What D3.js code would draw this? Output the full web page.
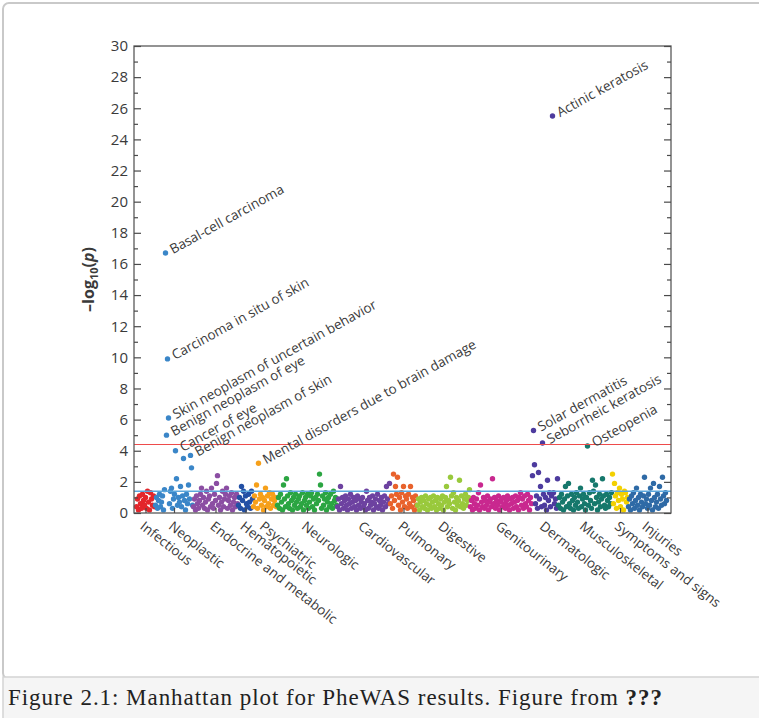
<!DOCTYPE html>
<html>
<head>
<meta charset="utf-8">
<script src="https://cdn.jsdelivr.net/npm/d3@7/dist/d3.min.js"></script>
<style>
body { margin: 0; background: #fff; }
svg { display: block; }
</style>
</head>
<body>
<div id="chart"></div>
<script>
// phenotype groups, left to right
var categories = ["Infectious", "Neoplastic", "Endocrine and metabolic", "Hematopoietic", "Psychiatric",
    "Neurologic", "Cardiovascular", "Pulmonary", "Digestive", "Genitourinary", "Dermatologic",
    "Musculoskeletal", "Symptoms and signs", "Injuries"];
var colors = ["#e3262b", "#3a86c8", "#8b4ea3", "#2350a5", "#f6a01a", "#2ba542", "#6d42a0",
    "#e8622c", "#99c93c", "#c9288f", "#4d3b9e", "#16786c", "#f3d000", "#2e6aa6"];

// -log10(p) per phenotype, in plot order inside each group
var infectious = [0.4, 0.9, 0.2, 1.1, 0.6, 0.3, 1.2, 0.8, 0.5, 1.0, 0.3, 1.4, 0.7, 0.2, 1.3, 0.9, 0.5, 1.1, 0.4];
var neoplastic = [0.5, 1.0, 0.3, 0.8, 1.2, 0.4, 0.7, 1.1, 0.2, 1.5, 16.7, 5.0, 9.9, 6.1, 0.6, 1.4, 1.6, 0.3, 0.9,
    1.2, 4.0, 2.2, 0.5, 1.0, 0.7, 1.7, 0.4, 1.1, 3.5, 0.8, 0.2, 1.2, 0.6, 1.8, 0.9, 3.7, 2.9, 0.5];
var endocrine = [0.4, 0.9, 0.2, 1.1, 0.6, 0.3, 0.8, 1.2, 1.6, 0.5, 1.0, 0.3, 0.7, 1.4, 0.2, 0.9, 1.1, 0.4, 1.6,
    0.6, 0.3, 1.2, 0.8, 1.9, 2.4, 0.5, 1.0, 0.2, 0.7, 1.4, 0.4, 0.9, 1.2, 1.6, 0.3, 0.8, 1.1, 0.5, 1.3, 0.2,
    0.7, 1.0, 0.4, 1.2, 0.6];
var hematopoietic = [0.5, 1.0, 0.3, 1.7, 0.8, 1.4, 0.2, 1.1, 0.6, 0.4, 1.2, 0.7, 0.3, 1.4, 0.9];
var psychiatric = [0.4, 1.1, 0.7, 1.8, 0.3, 3.2, 0.9, 1.2, 0.5, 1.0, 0.2, 0.8, 1.6, 0.4, 1.1, 0.6, 1.3, 0.3,
    0.9, 1.2, 0.5, 0.8, 1.0, 0.4];
var neurologic = [0.5, 1.0, 0.3, 1.2, 0.7, 0.2, 1.8, 0.9, 0.4, 2.2, 1.1, 0.6, 0.3, 1.3, 0.8, 0.2, 1.0, 0.5,
    1.2, 0.7, 0.3, 0.9, 1.1, 0.4, 0.6, 1.3, 0.2, 0.8, 1.0, 0.5, 1.2, 0.3, 0.7, 1.1, 1.3, 0.4, 0.9, 0.2, 1.0,
    0.6, 1.2, 0.8, 2.5, 1.8, 0.3, 1.1, 0.5, 0.9, 1.3, 0.2, 0.7, 1.0, 0.4, 1.2, 0.6, 0.3, 1.4, 0.8, 1.0, 0.5];
var cardiovascular = [0.4, 0.9, 0.2, 1.7, 0.6, 1.0, 0.3, 0.8, 1.1, 0.5, 0.2, 0.9, 0.6, 1.2, 0.3, 0.7, 1.0,
    0.4, 0.8, 0.2, 1.1, 0.5, 0.9, 0.3, 0.7, 1.0, 0.4, 0.6, 0.2, 1.4, 0.8, 0.3, 1.0, 0.5, 0.7, 1.1, 0.2, 0.6,
    0.9, 0.4, 1.2, 0.3, 0.8, 0.5, 1.0, 0.2, 0.7, 1.1, 0.4, 1.7, 0.9, 0.6, 1.9];
var pulmonary = [0.6, 1.1, 0.3, 2.5, 0.8, 1.7, 1.2, 2.3, 0.5, 1.0, 0.2, 1.3, 0.7, 1.7, 0.4, 1.1, 0.9, 0.3,
    1.2, 0.6, 1.7, 0.4, 1.0, 0.8, 0.2, 1.1, 0.5];
var digestive = [0.5, 0.9, 0.2, 0.7, 1.0, 0.4, 0.8, 0.3, 1.1, 0.6, 0.2, 0.9, 0.5, 1.0, 0.3, 0.7, 1.1, 0.4,
    0.8, 0.2, 1.0, 0.6, 0.3, 0.9, 0.5, 1.1, 0.2, 0.7, 1.0, 1.7, 0.4, 0.8, 0.6, 2.3, 1.1, 0.3, 1.3, 0.7, 0.2,
    1.0, 0.5, 0.8, 2.1, 0.4, 1.1, 0.6, 0.3, 0.9, 1.2, 0.5, 0.8, 1.0, 1.5];
var genitourinary = [0.4, 0.8, 0.2, 1.0, 0.6, 0.3, 0.9, 0.5, 1.3, 0.2, 1.8, 0.7, 0.4, 1.0, 0.3, 0.8, 0.5,
    1.1, 0.2, 0.7, 0.9, 0.4, 2.2, 0.6, 1.0, 0.3, 0.8, 0.5, 1.1, 0.2, 0.7, 0.9, 0.4, 1.0, 0.6, 0.3, 0.8, 1.1,
    0.5, 0.2, 0.9, 0.6, 1.0, 0.3, 0.7, 1.1, 0.4, 0.8, 0.2, 1.0, 1.3, 0.5, 0.9, 0.3, 1.1, 0.6, 0.4, 1.2, 0.8,
    0.2, 1.0, 0.6];
var dermatologic = [2.4, 5.3, 3.1, 0.6, 1.1, 0.3, 2.6, 0.9, 1.7, 0.4, 4.5, 1.2, 0.5, 1.0, 0.2, 2.1, 0.8,
    1.3, 0.4, 1.1, 25.5, 1.3, 0.6, 0.9, 0.3, 2.2];
var musculoskeletal = [0.5, 1.0, 0.3, 1.2, 0.7, 0.2, 0.9, 1.7, 0.4, 1.1, 1.9, 0.6, 0.3, 1.2, 0.8, 0.2, 1.0,
    0.5, 1.3, 0.7, 0.3, 1.1, 1.6, 0.4, 0.9, 1.2, 0.6, 0.2, 1.0, 4.3, 0.5, 1.3, 0.8, 0.3, 2.1, 1.4, 0.6, 1.8,
    1.0, 0.2, 0.7, 1.2, 0.4, 0.9, 2.2, 1.1, 0.5, 0.3, 1.2, 0.8, 0.4, 1.0, 0.6, 1.3];
var symptoms = [2.5, 0.6, 1.9, 1.1, 0.3, 1.3, 0.8, 1.6, 0.4, 1.2, 0.9, 0.2, 1.4, 1.3, 0.7, 1.0];
var injuries = [0.4, 0.9, 0.2, 1.1, 0.6, 1.3, 0.3, 0.8, 1.6, 0.5, 1.0, 0.2, 1.2, 0.7, 0.4, 1.1, 2.3, 0.6,
    0.9, 0.3, 1.2, 0.5, 1.6, 0.8, 0.2, 1.9, 1.0, 0.4, 0.7, 1.2, 0.3, 1.7, 0.9, 0.5, 2.3, 1.1, 0.6, 1.3, 0.8];

var groups = [infectious, neoplastic, endocrine, hematopoietic, psychiatric, neurologic, cardiovascular,
    pulmonary, digestive, genitourinary, dermatologic, musculoskeletal, symptoms, injuries];

// labelled hits: [group, phenotype index in group, label]
var hits = [
    [1, 10, "Basal-cell carcinoma"],
    [1, 12, "Carcinoma in situ of skin"],
    [1, 13, "Skin neoplasm of uncertain behavior"],
    [1, 11, "Benign neoplasm of eye"],
    [1, 20, "Cancer of eye"],
    [1, 35, "Benign neoplasm of skin"],
    [4, 5, "Mental disorders due to brain damage"],
    [10, 20, "Actinic keratosis"],
    [10, 1, "Solar dermatitis"],
    [10, 10, "Seborrheic keratosis"],
    [11, 29, "Osteopenia"]
];

var yMajor = d3.range(0, 31, 2);
var yMinor = d3.range(1, 30, 2);
var bonferroni = 4.4;   // red line
var nominal = 1.4;      // blue line

var W = 759, H = 718;
var box = {left: 134, right: 671, top: 46, bottom: 513};
var font = "'Open Sans', 'Noto Sans', sans-serif";
var ink = "#3a3a3a";

var svg = d3.select("#chart").append("svg").attr("width", W).attr("height", H);

// page frame and caption strip
svg.append("rect").attr("x", 3).attr("y", 3).attr("width", W + 20).attr("height", 676)
    .attr("rx", 6).attr("fill", "#fff").attr("stroke", "#c9c9c9").attr("stroke-width", 2);
svg.append("rect").attr("x", 3).attr("y", 677).attr("width", W + 20).attr("height", 60)
    .attr("fill", "#f5f5f5").attr("stroke", "#d4d4d4").attr("stroke-width", 1.5);
var cap = svg.append("text").attr("x", 8).attr("y", 705)
    .attr("font-family", "'Liberation Serif', 'DejaVu Serif', serif").attr("font-size", 23)
    .attr("letter-spacing", 0.95).attr("fill", "#222");
cap.append("tspan").text("Figure 2.1: Manhattan plot for PheWAS results. Figure from ");
cap.append("tspan").attr("font-weight", "bold").text("???");

// flatten groups into ordered points
var points = [], starts = [], n = 0;
groups.forEach(function(vals, g) {
    starts.push(n);
    vals.forEach(function(v, i) {
        points.push({g: g, i: i, idx: n, v: v});
        n++;
    });
});

var x = d3.scaleLinear().domain([0, n]).range([box.left + 2, box.right - 4]);
var y = d3.scaleLinear().domain([0, 30]).range([box.bottom, box.top]);

var plot = svg.append("g");

plot.selectAll("circle.pt").data(points).enter().append("circle")
    .attr("class", "pt")
    .attr("cx", function(d) { return x(d.idx + 0.5); })
    .attr("cy", function(d) { return y(d.v); })
    .attr("r", 2.7)
    .attr("fill", function(d) { return colors[d.g]; });

// significance lines
plot.append("line").attr("x1", box.left).attr("x2", box.right)
    .attr("y1", y(nominal)).attr("y2", y(nominal))
    .attr("stroke", "#5aa6dc").attr("stroke-width", 1.6);
plot.append("line").attr("x1", box.left).attr("x2", box.right)
    .attr("y1", y(bonferroni)).attr("y2", y(bonferroni))
    .attr("stroke", "#ee4b4b").attr("stroke-width", 1.1);

// frame
svg.append("rect").attr("x", box.left).attr("y", box.top)
    .attr("width", box.right - box.left).attr("height", box.bottom - box.top)
    .attr("fill", "none").attr("stroke", "#5a5a5a").attr("stroke-width", 1.3);

function styleAxis(g) {
    g.select(".domain").remove();
    g.selectAll("line").attr("stroke", "#4a4a4a").attr("stroke-width", 1.2);
    g.selectAll("text").attr("fill", ink);
    g.attr("font-family", font).attr("font-size", 15);
}

svg.append("g").attr("transform", "translate(" + box.left + ",0)")
    .call(d3.axisLeft(y).tickValues(yMajor).tickSize(-7).tickPadding(6).tickSizeOuter(0))
    .call(styleAxis);
svg.append("g").attr("transform", "translate(" + box.left + ",0)")
    .call(d3.axisLeft(y).tickValues(yMinor).tickSize(-4).tickFormat("").tickSizeOuter(0))
    .call(styleAxis);
svg.append("g").attr("transform", "translate(" + box.right + ",0)")
    .call(d3.axisRight(y).tickValues(yMajor).tickSize(-7).tickFormat("").tickSizeOuter(0))
    .call(styleAxis);
svg.append("g").attr("transform", "translate(" + box.right + ",0)")
    .call(d3.axisRight(y).tickValues(yMinor).tickSize(-4).tickFormat("").tickSizeOuter(0))
    .call(styleAxis);

// category axis
var centers = groups.map(function(vals, g) { return starts[g] + vals.length / 2; });
var xa = svg.append("g").attr("transform", "translate(0," + box.bottom + ")")
    .call(d3.axisBottom(x).tickValues(centers).tickSize(-5).tickSizeOuter(0)
        .tickFormat(function(d, i) { return categories[i]; }))
    .call(styleAxis);
xa.attr("font-size", 13.5);
xa.selectAll("text")
    .attr("text-anchor", "start")
    .attr("x", 4).attr("y", 16).attr("dy", 0)
    .attr("transform", "rotate(38)");

// y title
var yt = svg.append("text")
    .attr("transform", "translate(94," + (box.top + box.bottom) / 2 + ") rotate(-90)")
    .attr("text-anchor", "middle").attr("font-family", font).attr("font-size", 16)
    .attr("font-weight", "bold").attr("fill", ink);
yt.append("tspan").text("\u2013log");
yt.append("tspan").attr("font-size", 11).attr("dy", 4).text("10");
yt.append("tspan").attr("dy", -4).text("(");
yt.append("tspan").attr("font-style", "italic").text("p");
yt.append("tspan").text(")");

// hit labels
var lab = svg.selectAll("g.hit").data(hits).enter().append("g")
    .attr("class", "hit")
    .attr("transform", function(d) {
        var cx = x(starts[d[0]] + d[1] + 0.5), cy = y(groups[d[0]][d[1]]);
        return "translate(" + cx + "," + cy + ") rotate(-29)";
    });
lab.append("text").attr("x", 6).attr("dy", "0.35em")
    .attr("font-family", font).attr("font-size", 13.5).attr("fill", ink)
    .text(function(d) { return d[2]; });
</script>
</body>
</html>
